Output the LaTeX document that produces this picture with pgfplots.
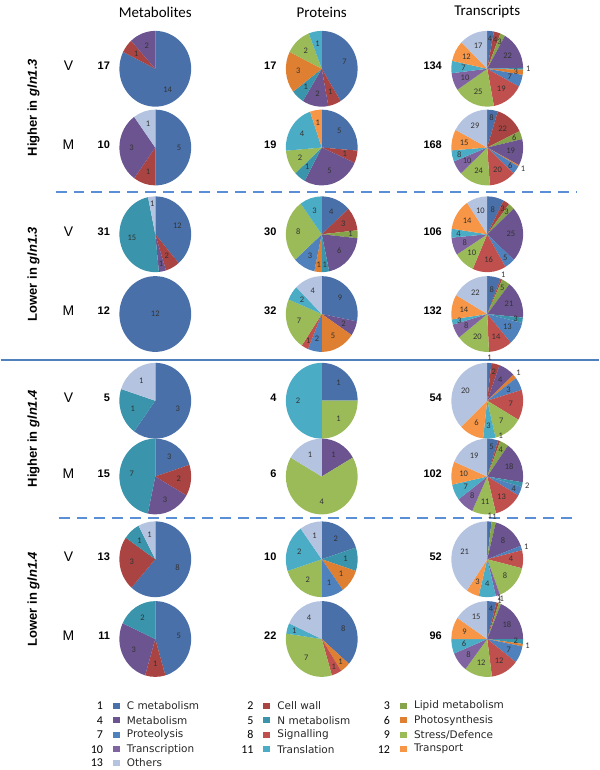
\documentclass[border=0pt]{standalone}
\usepackage{pgfplots}
\pgfplotsset{compat=1.18}
\usepackage{fontspec}
\setmainfont{Liberation Sans}
\newfontfamily\calib{Carlito}
\newfontfamily\dejavu{DejaVu Sans}

% category colours (Excel-like)
\definecolor{cat1}{HTML}{4A70A9}
\definecolor{cat2}{HTML}{A94442}
\definecolor{cat3}{HTML}{86A44A}
\definecolor{cat4}{HTML}{6C5490}
\definecolor{cat5}{HTML}{3A94AB}
\definecolor{cat6}{HTML}{DF7F31}
\definecolor{cat7}{HTML}{4F81BD}
\definecolor{cat8}{HTML}{C0504D}
\definecolor{cat9}{HTML}{9BBB59}
\definecolor{cat10}{HTML}{8064A2}
\definecolor{cat11}{HTML}{4BACC6}
\definecolor{cat12}{HTML}{F79646}
\definecolor{cat13}{HTML}{B4C3E0}
\definecolor{lineblue}{HTML}{4F81BD}
\definecolor{dashblue}{HTML}{5A8FD6}

\def\prx{36}
\def\pry{38}
\tikzset{plbl/.style={font=\calib\fontsize{8.5}{9}\selectfont,text=black!80,inner sep=0pt}}

% pie: #1 centre, #2 total, #3 list category/value (clockwise from 12 o'clock)
\newcommand\pie[3]{%
  \xdef\pang{90}%
  \foreach \pc/\pv in {#3}{%
    \pgfmathsetmacro\pend{\pang-360*\pv/#2}%
    \fill[cat\pc] (#1) -- ([shift={(\pang:\prx pt and \pry pt)}]#1)
      arc[start angle=\pang,end angle=\pend,x radius=\prx pt,y radius=\pry pt] -- cycle;
    \xdef\pang{\pend}%
  }%
  \xdef\pang{90}%
  \foreach \pc/\pv in {#3}{%
    \pgfmathsetmacro\pend{\pang-360*\pv/#2}%
    \pgfmathsetmacro\pmid{(\pang+\pend)/2}%
    \pgfmathsetmacro\pfr{(\pv/#2<0.02) ? 1.14 : ((\pv==#2) ? 0 : ((\pv/#2<0.05) ? 0.8 : 0.66))}%
    \pgfmathsetmacro\plx{\pfr*\prx}%
    \pgfmathsetmacro\ply{\pfr*\pry}%
    \node[plbl] at ([shift={(\pmid:\plx pt and \ply pt)}]#1) {\pv};
    \xdef\pang{\pend}%
  }%
}

\newcommand\legent[5]{% numx, y, num, colour, squarex
  \node[anchor=east,font=\calib\fontsize{12}{12}\selectfont] at (axis cs:#1,#2) {#3};
  \node[fill=#4,minimum width=7pt,minimum height=6pt,inner sep=0pt] at (axis cs:#5,#2) {};
}

\begin{document}
\begin{tikzpicture}
\begin{axis}[x=1pt,y=1pt,xmin=0,xmax=600,ymin=0,ymax=770,y dir=reverse,
  hide axis,clip=false]
\addplot[draw=none] coordinates {(0,0) (600,770)};
% pie centres
\foreach \col/\cx in {m/155,p/322,t/488}{
  \foreach \row/\cy in {1/69,2/148,3/235,4/315,5/402,6/478,7/561,8/641}{
    \edef\tmp{\noexpand\coordinate (\col\row) at (axis cs:\cx,\cy);}\tmp
  }
}
% separator end points
\coordinate (d1a) at (axis cs:55,193);
\coordinate (d1b) at (axis cs:578,193);
\coordinate (d2a) at (axis cs:58,520);
\coordinate (d2b) at (axis cs:578,520);
% column titles
\node[font=\calib\fontsize{15}{15}\selectfont] at (axis cs:155,12) {Metabolites};
\node[font=\calib\fontsize{15}{15}\selectfont] at (axis cs:322,12) {Proteins};
\node[font=\calib\fontsize{15}{15}\selectfont] at (axis cs:488,12) {Transcripts};
% group labels
\node[rotate=90,font=\bfseries\fontsize{13}{13}\selectfont] at (axis cs:33,108) {Higher in \textit{gln1.3}};
\node[rotate=90,font=\bfseries\fontsize{13}{13}\selectfont] at (axis cs:33,275) {Lower in \textit{gln1.3}};
\node[rotate=90,font=\bfseries\fontsize{13}{13}\selectfont] at (axis cs:33,440) {Higher in \textit{gln1.4}};
\node[rotate=90,font=\bfseries\fontsize{13}{13}\selectfont] at (axis cs:33,601) {Lower in \textit{gln1.4}};
% V / M
\foreach \lab/\cy in {V/66,M/145,V/232,M/312,V/399,M/475,V/558,M/638}{
  \edef\tmp{\noexpand\node[font=\noexpand\fontsize{14}{14}\noexpand\selectfont] at (axis cs:68,\cy) {\lab};}\tmp
}
% counts
\foreach \cx/\cy/\n in {113/66/17,113/145/10,113/232/31,113/312/12,113/399/5,113/475/15,113/558/13,113/638/11,
  280/66/17,280/145/19,280/232/30,280/312/32,280/399/4,280/475/6,280/558/10,280/638/22,
  446/66/134,446/145/168,446/232/106,446/312/132,446/399/54,446/475/102,446/558/52,446/638/96}{
  \edef\tmp{\noexpand\node[anchor=east,font=\noexpand\bfseries\noexpand\fontsize{11}{11}\noexpand\selectfont] at (axis cs:\cx,\cy) {\n};}\tmp
}
% solid separator
\draw[lineblue,line width=1.5pt] (axis cs:0,361) -- (axis cs:600,361);
% legend
\legent{106}{708}{1}{cat1}{116}
\legent{257}{708}{2}{cat2}{267}
\legent{394}{708}{3}{cat3}{404}
\legent{106}{722.5}{4}{cat4}{116}
\legent{257}{722.5}{5}{cat5}{267}
\legent{394}{722.5}{6}{cat6}{404}
\legent{106}{737}{7}{cat7}{116}
\legent{257}{737}{8}{cat8}{267}
\legent{394}{737}{9}{cat9}{404}
\legent{106}{751.5}{10}{cat10}{116}
\legent{257}{751.5}{11}{cat11}{267}
\legent{394}{751.5}{12}{cat12}{404}
\legent{106}{765}{13}{cat13}{116}
\tikzset{lt/.style={anchor=west,font=\dejavu\fontsize{10.5}{12}\selectfont,text=black!85}}
\node[lt] at (axis cs:123,708) {C metabolism};
\node[lt] at (axis cs:274,708) {Cell wall};
\node[lt] at (axis cs:411,708) {Lipid metabolism};
\node[lt] at (axis cs:123,722.5) {Metabolism};
\node[lt] at (axis cs:274,722.5) {N metabolism};
\node[lt] at (axis cs:411,722.5) {Photosynthesis};
\node[lt] at (axis cs:123,737) {Proteolysis};
\node[lt] at (axis cs:274,737) {Signalling};
\node[lt] at (axis cs:411,737) {Stress/Defence};
\node[lt] at (axis cs:123,751.5) {Transcription};
\node[lt] at (axis cs:274,751.5) {Translation};
\node[lt] at (axis cs:411,751.5) {Transport};
\node[lt] at (axis cs:123,765) {Others};
\end{axis}

% dashed separators
\draw[dashblue,line width=2pt,dash pattern=on 11pt off 7pt] (d1a) -- (d1b);
\draw[dashblue,line width=2pt,dash pattern=on 11pt off 7pt] (d2a) -- (d2b);

% Higher in gln1.3, V
\pie{m1}{17}{1/14,2/1,4/2}
\pie{p1}{17}{1/7,2/1,4/2,5/1,6/3,9/2,11/1}
\pie{t1}{134}{1/4,2/4,3/3,4/22,5/1,6/3,7/7,8/19,9/25,10/10,11/7,12/12,13/17}
% Higher in gln1.3, M
\pie{m2}{10}{1/5,2/1,4/3,13/1}
\pie{p2}{19}{1/5,2/1,4/5,5/1,9/2,11/4,12/1}
\pie{t2}{168}{1/8,2/22,3/6,4/19,6/1,7/6,8/20,9/24,10/10,11/8,12/15,13/29}
% Lower in gln1.3, V
\pie{m3}{31}{1/12,2/2,4/1,5/15,13/1}
\pie{p3}{30}{1/4,2/3,3/1,4/6,5/1,6/1,7/3,9/8,11/3}
\pie{t3}{106}{1/8,2/3,3/3,4/25,7/5,8/16,9/10,10/8,11/4,12/14,13/10}
% Lower in gln1.3, M
\pie{m4}{12}{1/12}
\pie{p4}{32}{1/9,4/2,6/5,7/2,8/1,9/7,11/2,13/4}
\pie{t4}{132}{1/8,2/1,3/5,4/21,5/3,7/13,8/14,9/20,10/8,11/3,12/14,13/22}
% Higher in gln1.4, V
\pie{m5}{5}{1/3,5/1,13/1}
\pie{p5}{4}{1/1,9/1,11/2}
\pie{t5}{54}{1/1,2/2,4/4,6/1,7/3,8/7,9/7,11/3,12/6,13/20}
% Higher in gln1.4, M
\pie{m6}{15}{1/3,2/2,4/3,5/7}
\pie{p6}{6}{4/1,9/4,13/1}
\pie{t6}{102}{1/5,2/1,3/4,4/18,5/2,7/4,8/13,9/11,10/8,11/7,12/10,13/19}
% Lower in gln1.4, V
\pie{m7}{13}{1/8,2/3,5/1,13/1}
\pie{p7}{10}{1/2,5/1,6/1,7/1,9/2,11/2,13/1}
\pie{t7}{52}{1/1,3/1,4/8,7/1,8/4,9/8,10/1,11/4,12/3,13/21}
% Lower in gln1.4, M
\pie{m8}{11}{1/5,2/1,4/3,5/2}
\pie{p8}{22}{1/8,6/1,8/1,9/7,11/1,13/4}
\pie{t8}{96}{1/4,2/1,3/1,4/18,5/2,6/1,7/7,8/12,9/12,10/8,11/6,12/9,13/15}
\end{tikzpicture}
\end{document}
